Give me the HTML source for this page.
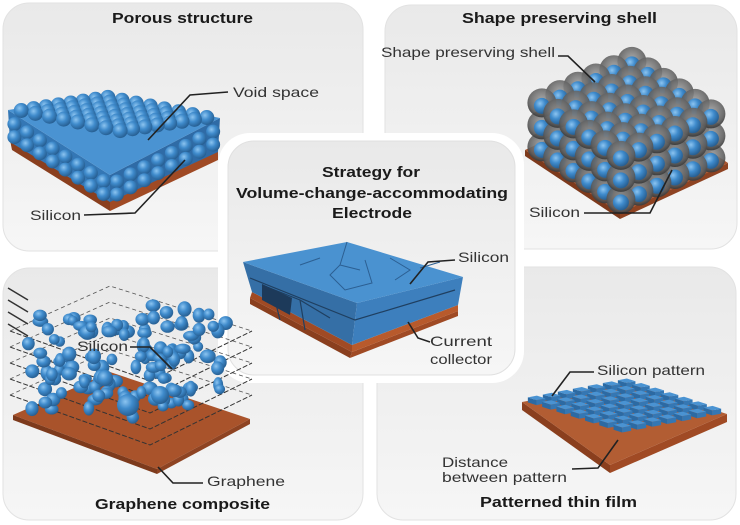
<!DOCTYPE html>
<html><head><meta charset="utf-8"><style>
html,body{margin:0;padding:0;background:#fff;}
svg{display:block;font-family:"Liberation Sans",Arial,sans-serif;}
.t{font-weight:bold;fill:#1a1a1a;font-size:15px;}
.l{fill:#333;font-size:14px;}
.ln{stroke:#222;stroke-width:1.6;fill:none;}
</style></head><body>
<svg id="s" width="740" height="525" viewBox="0 0 740 525" xmlns="http://www.w3.org/2000/svg">
<defs>
<linearGradient id="pg" x1="0" y1="0" x2="0" y2="1"><stop offset="0" stop-color="#e9e9e9"/><stop offset="1" stop-color="#f6f6f6"/></linearGradient>
<radialGradient id="bs" cx="0.38" cy="0.35" r="0.7"><stop offset="0" stop-color="#8cc4f0"/><stop offset="0.45" stop-color="#3f8bcc"/><stop offset="1" stop-color="#245a8c"/></radialGradient>
<radialGradient id="gs" cx="0.5" cy="0.4" r="0.6"><stop offset="0" stop-color="#9a9a9a" stop-opacity="0.85"/><stop offset="0.75" stop-color="#5e5e5e" stop-opacity="0.9"/><stop offset="1" stop-color="#3a3a3a" stop-opacity="0.95"/></radialGradient>
</defs>
<rect x="3" y="3" width="360" height="248" rx="26" fill="url(#pg)" stroke="#e2e2e2"/>
<rect x="385" y="5" width="352" height="244" rx="26" fill="url(#pg)" stroke="#e2e2e2"/>
<rect x="3" y="268" width="360" height="252" rx="26" fill="url(#pg)" stroke="#e2e2e2"/>
<rect x="377" y="267" width="359" height="253" rx="26" fill="url(#pg)" stroke="#e2e2e2"/>
<rect x="218" y="133" width="306" height="250" rx="32" fill="#fff"/>
<rect x="228" y="141" width="287" height="234" rx="26" fill="url(#pg)" stroke="#e0e0e0"/>
<g id="art"></g>
<text class="t" x="112" y="23" textLength="141" lengthAdjust="spacingAndGlyphs">Porous structure</text>
<text class="t" x="462" y="23" textLength="195" lengthAdjust="spacingAndGlyphs">Shape preserving shell</text>
<text class="t" x="322" y="177" textLength="98" lengthAdjust="spacingAndGlyphs">Strategy for</text>
<text class="t" x="236" y="198" textLength="272" lengthAdjust="spacingAndGlyphs">Volume-change-accommodating</text>
<text class="t" x="332" y="218" textLength="80" lengthAdjust="spacingAndGlyphs">Electrode</text>
<text class="t" x="95" y="509" textLength="175" lengthAdjust="spacingAndGlyphs">Graphene composite</text>
<text class="t" x="480" y="507" textLength="157" lengthAdjust="spacingAndGlyphs">Patterned thin film</text>
<text class="l" x="233" y="97" textLength="86" lengthAdjust="spacingAndGlyphs">Void space</text>
<text class="l" x="30" y="220" textLength="51" lengthAdjust="spacingAndGlyphs">Silicon</text>
<text class="l" x="381" y="57" textLength="174" lengthAdjust="spacingAndGlyphs">Shape preserving shell</text>
<text class="l" x="529" y="217" textLength="51" lengthAdjust="spacingAndGlyphs">Silicon</text>
<text class="l" x="458" y="262" textLength="51" lengthAdjust="spacingAndGlyphs">Silicon</text>
<text class="l" x="430" y="346" textLength="62" lengthAdjust="spacingAndGlyphs">Current</text>
<text class="l" x="430" y="364" textLength="62" lengthAdjust="spacingAndGlyphs">collector</text>
<text class="l" x="77" y="351" textLength="51" lengthAdjust="spacingAndGlyphs">Silicon</text>
<text class="l" x="207" y="486" textLength="78" lengthAdjust="spacingAndGlyphs">Graphene</text>
<text class="l" x="597" y="375" textLength="108" lengthAdjust="spacingAndGlyphs">Silicon pattern</text>
<text class="l" x="442" y="467" textLength="66" lengthAdjust="spacingAndGlyphs">Distance</text>
<text class="l" x="442" y="482" textLength="125" lengthAdjust="spacingAndGlyphs">between pattern</text>
</svg>
<script>
var NS="http://www.w3.org/2000/svg",G=document.getElementById('art');
function el(t,a,p){var e=document.createElementNS(NS,t);for(var k in a)e.setAttribute(k,a[k]);(p||G).appendChild(e);return e;}
function poly(pts,f,s){return el('polygon',{points:pts,fill:f,stroke:s||'none'});}
// TL porous slab
poly("10,140 110,200 110,211 12,150","#8a3f1e");poly("110,200 218,150 218,160 110,211","#a04a24");
poly("8,110 110,175 110,202 10,142","#3477b5");poly("110,175 220,118 218,152 110,202","#2f6ba6");
poly("8,110 107,95 220,118 110,175","#4a93d2");
var K=[107,95],L=[8,110],R=[220,118],N=8;
for(var i=0;i<N;i++)for(var j=0;j<N;j++){var x=K[0]+(i+.5)*(L[0]-K[0])/N+(j+.5)*(R[0]-K[0])/N,y=K[1]+(i+.5)*(L[1]-K[1])/N+(j+.5)*(R[1]-K[1])/N;el('circle',{cx:x,cy:y,r:7.5,fill:'url(#bs)'});}
for(var i=0;i<N;i++){var x=8+(i+.5)*102/N,y=110+(i+.5)*65/N;el('circle',{cx:x,cy:y+10,r:7,fill:'url(#bs)'});el('circle',{cx:x,cy:y+23,r:7,fill:'url(#bs)'});
var x2=110+(i+.5)*110/N,y2=175-(i+.5)*57/N;el('circle',{cx:x2,cy:y2+10,r:7,fill:'url(#bs)'});el('circle',{cx:x2,cy:y2+23,r:7,fill:'url(#bs)'});}
el('path',{d:"M148,140 L190,95 L228,92",class:'ln'});el('path',{d:"M185,160 L135,213 L84,215",class:'ln'});
// TR shells
poly("525,150 620,213 728,163 633,100","#a9532b");poly("525,150 620,213 620,219 525,156","#7d3a1c");poly("620,213 728,163 728,169 620,219","#8e4322");
var Kb=[633,108],u=[-18,8.3],v=[15.8,10.5],items=[];
for(var l=0;l<3;l++)for(var i=0;i<6;i++)for(var j=0;j<6;j++)items.push([i+j,l,i,j]);
items.sort(function(a,b){return a[0]-b[0]||a[1]-b[1];});
items.forEach(function(o){var i=o[2],j=o[3],l=o[1];var x=Kb[0]+(i+.5)*u[0]+(j+.5)*v[0],y=Kb[1]+(i+.5)*u[1]+(j+.5)*v[1]-12-22*l;
el('circle',{cx:x,cy:y,r:14.5,fill:'url(#gs)'});el('circle',{cx:x,cy:y+3,r:8,fill:'url(#bs)'});});
el('path',{d:"M558,56 L568,56 L595,82",class:'ln'});el('path',{d:"M584,213 L650,213 L672,170",class:'ln'});
// center block
poly("250,298 352,352 350,358 250,304","#8a3f1e");poly("352,352 458,311 458,316 350,358","#a04a24");
poly("252,292 352,345 352,352 250,298","#a04a24");poly("352,345 458,305 458,311 352,352","#b85a2c");
poly("243,262 357,303 352,345 252,292","#356fa6");poly("357,303 463,277 458,305 352,345","#3d7fbd");
poly("243,262 347,242 463,277 357,303","#4a92d0");
el('path',{d:"M262,285 L300,300 L305,330 M300,300 L330,318 M275,300 L280,320 M250,278 L355,320 L455,290",stroke:"#1f3f60","stroke-width":1.2,fill:"none"});
el('path',{d:"M347,242 L340,265 L330,275 L345,290 L372,283 L365,260 M340,265 L360,270 M300,265 L320,258 M390,258 L410,270 L395,280 M420,268 L440,262",stroke:"#2c5f92","stroke-width":1,fill:"none"});
poly("262,284 292,298 290,315 262,300","#1d3a5a");
el('path',{d:"M410,284 L428,262 L455,260",class:'ln'});el('path',{d:"M408,322 L418,338 L430,342",class:'ln'});
// BL graphene
poly("13,415 157,469 250,419 110,372","#a9532b");poly("13,415 157,469 157,474 13,420","#7d3a1c");poly("157,469 250,419 250,424 157,474","#8e4322");
for(var k=0;k<5;k++){var dy=-k*16;el('path',{d:"M10,"+(395+dy)+" L150,"+(445+dy)+" L252,"+(395+dy),stroke:"#333","stroke-width":1,fill:"none","stroke-dasharray":"5 2"});
el('path',{d:"M10,"+(395+dy)+" L110,"+(350+dy)+" L252,"+(395+dy),stroke:"#555","stroke-width":.8,fill:"none","stroke-dasharray":"4 3"});}
for(var k=0;k<4;k++)el('line',{x1:8,y1:288+k*12,x2:28,y2:300+k*12,stroke:"#333","stroke-width":1.5});
var seed=7;function rnd(){seed=(seed*9301+49297)%233280;return seed/233280;}
for(var n=0;n<150;n++){var a=rnd(),b=rnd(),x=18+a*90+b*130,y=410-a*43+b*4-rnd()*90+(a+b)*15;
if(y>455)y=455;if(x>70&&x<135&&y>335&&y<356)continue;el('ellipse',{cx:x,cy:y,rx:5+rnd()*3,ry:5+rnd()*3,fill:'url(#bs)'});}
el('circle',{cx:128,cy:405,r:11,fill:'url(#bs)'});el('circle',{cx:160,cy:395,r:9,fill:'url(#bs)'});el('circle',{cx:105,cy:378,r:8,fill:'url(#bs)'});
el('path',{d:"M130,347 L150,347 L172,369",class:'ln'});el('path',{d:"M158,467 L173,483 L203,483",class:'ln'});
// BR pattern
poly("522,402 610,465 610,473 522,410","#8a3f1e");poly("610,465 727,414 727,422 610,473","#a04a24");
poly("522,402 610,465 727,414 627,382","#b25d33");
var K2=[627,382],U=[(522-627)/7,(402-382)/7],V=[(727-627)/7,(414-382)/7];
for(var i=0;i<7;i++)for(var j=0;j<7;j++){(function(){var cx=K2[0]+(i+.5)*U[0]+(j+.5)*V[0],cy=K2[1]+(i+.5)*U[1]+(j+.5)*V[1];
var hu=[U[0]*.3,U[1]*.3],hv=[V[0]*.3,V[1]*.3];
var p=function(a,b){return (cx+a*hu[0]+b*hv[0])+","+(cy+a*hu[1]+b*hv[1]-5);};
var q=function(a,b){return (cx+a*hu[0]+b*hv[0])+","+(cy+a*hu[1]+b*hv[1]);};
poly(q(1,-1)+" "+q(1,1)+" "+p(1,1)+" "+p(1,-1),"#2c6aa3");poly(q(1,1)+" "+q(-1,1)+" "+p(-1,1)+" "+p(1,1),"#3577b3");
poly(p(-1,-1)+" "+p(1,-1)+" "+p(1,1)+" "+p(-1,1),"#4a93d2");})();}
el('path',{d:"M552,396 L570,372 L594,372",class:'ln'});el('path',{d:"M618,440 L598,468 L572,469",class:'ln'});
</script>
</body></html>
